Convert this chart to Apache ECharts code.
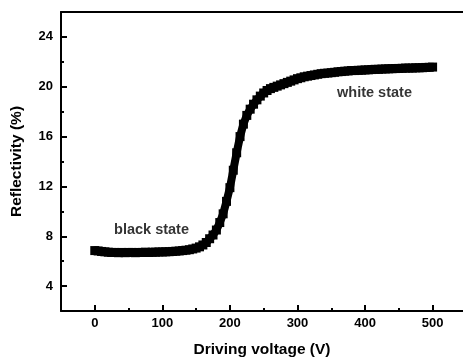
<!DOCTYPE html>
<html>
<head>
<meta charset="utf-8">
<script src="https://cdn.jsdelivr.net/npm/echarts@6/dist/echarts.min.js"></script>
<style>html,body{margin:0;padding:0;background:#fff;overflow:hidden}#c{width:463px;height:359px}</style>
</head>
<body>
<div id="c"></div>
<script>
const voltage = [0,5,10,15,20,25,30,35,40,45,50,55,60,65,70,75,80,85,90,95,100,105,110,115,120,125,130,135,140,145,150,155,160,165,170,175,180,185,190,195,200,205,210,215,220,225,230,235,240,245,250,255,260,265,270,275,280,285,290,295,300,305,310,315,320,325,330,335,340,345,350,355,360,365,370,375,380,385,390,395,400,405,410,415,420,425,430,435,440,445,450,455,460,465,470,475,480,485,490,495,500];
const reflectivity = [6.85,6.82,6.78,6.75,6.72,6.7,6.7,6.68,6.7,6.68,6.7,6.7,6.68,6.7,6.7,6.72,6.7,6.72,6.72,6.74,6.74,6.75,6.76,6.78,6.8,6.82,6.85,6.88,6.92,6.98,7.05,7.15,7.3,7.5,7.8,8.1,8.5,9.1,9.8,10.8,11.9,13.3,14.7,16.0,17.0,17.7,18.2,18.6,18.95,19.25,19.5,19.7,19.85,19.95,20.05,20.15,20.25,20.35,20.45,20.55,20.65,20.72,20.8,20.85,20.9,20.95,21.0,21.05,21.08,21.1,21.13,21.16,21.2,21.22,21.25,21.27,21.3,21.3,21.32,21.33,21.35,21.36,21.38,21.4,21.4,21.42,21.43,21.44,21.45,21.46,21.47,21.48,21.5,21.5,21.5,21.52,21.52,21.53,21.55,21.56,21.58];
const xTicks = [0,100,200,300,400,500];
const xMinorTicks = [50,150,250,350,450];
const yTicks = [4,8,12,16,20,24];
const yMinorTicks = [6,10,14,18,22];
const annotations = [
  {name: 'black state', value: [84, 8.5]},
  {name: 'white state', value: [414, 19.5]}
];
const xTitle = 'Driving voltage (V)';
const yTitle = 'Reflectivity (%)';

const FONT = '"Liberation Sans", Arial, sans-serif';
const chart = echarts.init(document.getElementById('c'), null, {renderer: 'canvas'});
const baseX = {min: -50, max: 545, type: 'value', splitLine: {show: false}};
const baseY = {min: 2, max: 26, type: 'value', splitLine: {show: false}, position: 'left'};
chart.setOption({
  animation: false,
  backgroundColor: '#fff',
  grid: {left: 61, right: 0, top: 12, bottom: 48, show: false, containLabel: false, outerBoundsMode: 'none'},
  xAxis: [
    Object.assign({}, baseX, {
      position: 'bottom',
      name: xTitle, nameLocation: 'middle', nameGap: 31,
      nameTextStyle: {fontFamily: FONT, fontWeight: 'bold', fontSize: 15.5, color: '#000'},
      axisLine: {show: true, onZero: false, lineStyle: {color: '#000', width: 2}},
      axisTick: {show: true, inside: true, length: 6, lineStyle: {color: '#000', width: 2}, customValues: xTicks},
      axisLabel: {show: true, customValues: xTicks, margin: 6, fontFamily: FONT, fontWeight: 'bold', fontSize: 13, color: '#000'}
    }),
    Object.assign({}, baseX, {
      position: 'bottom',
      axisLine: {show: false, onZero: false},
      axisTick: {show: true, inside: true, length: 3, lineStyle: {color: '#000', width: 2}, customValues: xMinorTicks},
      axisLabel: {show: false}
    }),
    Object.assign({}, baseX, {
      position: 'top',
      axisLine: {show: true, onZero: false, lineStyle: {color: '#000', width: 2}},
      axisTick: {show: false},
      axisLabel: {show: false}
    })
  ],
  yAxis: [
    Object.assign({}, baseY, {
      name: yTitle, nameLocation: 'middle', nameGap: 36,
      nameTextStyle: {fontFamily: FONT, fontWeight: 'bold', fontSize: 15.5, color: '#000'},
      axisLine: {show: true, onZero: false, lineStyle: {color: '#000', width: 2}},
      axisTick: {show: true, inside: true, length: 6, lineStyle: {color: '#000', width: 2}, customValues: yTicks},
      axisLabel: {show: true, customValues: yTicks, margin: 8, fontFamily: FONT, fontWeight: 'bold', fontSize: 13, color: '#000'}
    }),
    Object.assign({}, baseY, {
      axisLine: {show: false, onZero: false},
      axisTick: {show: true, inside: true, length: 3, lineStyle: {color: '#000', width: 2}, customValues: yMinorTicks},
      axisLabel: {show: false}
    })
  ],
  series: [
    {
      type: 'line',
      data: voltage.map((v, i) => [v, reflectivity[i]]),
      symbol: 'rect', symbolSize: 9, showAllSymbol: true,
      itemStyle: {color: '#000'},
      lineStyle: {color: '#000', width: 8},
      z: 3
    },
    {
      type: 'scatter',
      data: annotations,
      symbolSize: 0,
      label: {show: true, position: 'inside', formatter: p => p.name, fontFamily: FONT, fontWeight: 'bold', fontSize: 14.5, color: '#000'},
      silent: true
    }
  ]
});
</script>
</body>
</html>
